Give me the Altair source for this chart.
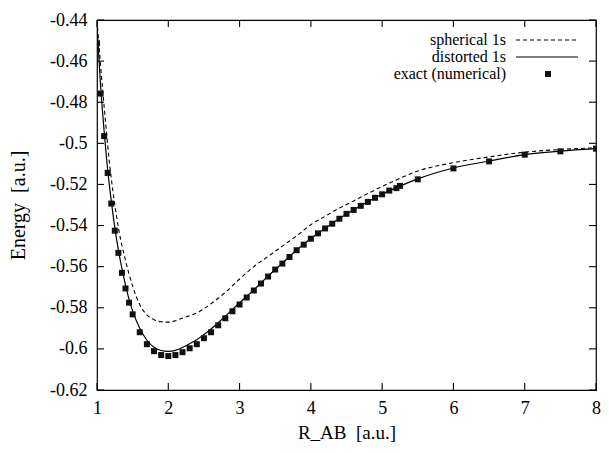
import altair as alt
import pandas as pd

# ---- data ----
exact_x = [1.0, 1.05, 1.1, 1.15, 1.2, 1.25, 1.3, 1.35, 1.4, 1.45, 1.5, 1.6, 1.7, 1.8, 1.9,
           2.0, 2.1, 2.2, 2.3, 2.4, 2.5, 2.6, 2.7, 2.8, 2.9, 3.0, 3.1, 3.2, 3.3, 3.4,
           3.5, 3.6, 3.7, 3.8, 3.9, 4.0, 4.1, 4.2, 4.3, 4.4, 4.5, 4.6, 4.7, 4.8, 4.9,
           5.0, 5.1, 5.2, 5.25, 5.5, 6.0, 6.5, 7.0, 7.5, 8.0]
exact_y = [-0.4513, -0.4758, -0.4965, -0.5144, -0.5293, -0.5425, -0.5533, -0.5630, -0.5706,
           -0.5775, -0.5832, -0.5919, -0.5977, -0.6011, -0.6030, -0.6035, -0.6030, -0.6016,
           -0.5997, -0.5977, -0.5948, -0.5919, -0.5885, -0.5851, -0.5817, -0.5784, -0.5750,
           -0.5716, -0.5682, -0.5648, -0.5614, -0.5585, -0.5553, -0.5520, -0.5493, -0.5464,
           -0.5438, -0.5414, -0.5391, -0.5367, -0.5343, -0.5324, -0.5304, -0.5285, -0.5265,
           -0.5248, -0.5230, -0.5218, -0.5207, -0.5175, -0.5122, -0.5088, -0.5055, -0.5039,
           -0.5026]

spherical_x = [1.0, 1.05, 1.1, 1.15, 1.2, 1.25, 1.3, 1.4, 1.5, 1.6, 1.7, 1.8, 1.9, 2.0,
               2.1, 2.2, 2.4, 2.6, 2.8, 3.0, 3.2, 3.4, 3.6, 3.8, 4.0, 4.2, 4.4, 4.6, 4.8,
               5.0, 5.2, 5.5, 6.0, 6.5, 7.0, 7.5, 8.0]
spherical_y = [-0.440, -0.462, -0.482, -0.501, -0.517, -0.530, -0.541, -0.557, -0.5695,
               -0.5785, -0.5835, -0.5858, -0.5868, -0.5870, -0.5863, -0.5850, -0.5825,
               -0.5780, -0.5725, -0.5660, -0.5600, -0.5550, -0.5500, -0.5450, -0.5396,
               -0.5355, -0.5315, -0.5280, -0.5244, -0.5210, -0.5178, -0.5135, -0.5094,
               -0.5066, -0.5043, -0.5030, -0.5022]

distorted_x = [1.0, 1.05, 1.1, 1.15, 1.2, 1.25, 1.3, 1.35, 1.4, 1.45, 1.5, 1.6, 1.7, 1.8,
               1.9, 2.0, 2.1, 2.2, 2.3, 2.4, 2.5, 2.6, 2.7, 2.8, 2.9, 3.0, 3.2, 3.4, 3.6,
               3.8, 4.0, 4.2, 4.4, 4.6, 4.8, 5.0, 5.2, 5.5, 6.0, 6.5, 7.0, 7.5, 8.0]
distorted_y = [-0.443, -0.472, -0.494, -0.513, -0.528, -0.541, -0.552, -0.561, -0.569,
               -0.576, -0.5815, -0.5900, -0.5958, -0.5992, -0.6008, -0.6012, -0.6007,
               -0.5993, -0.5975, -0.5955, -0.5930, -0.5903, -0.5873, -0.5841, -0.5808,
               -0.5776, -0.5713, -0.5646, -0.5583, -0.5519, -0.5463, -0.5413, -0.5366,
               -0.5323, -0.5284, -0.5247, -0.5216, -0.5173, -0.5120, -0.5086, -0.5055,
               -0.5038, -0.5026]

x_ticks = [1, 2, 3, 4, 5, 6, 7, 8]
y_ticks = [-0.62, -0.6, -0.58, -0.56, -0.54, -0.52, -0.5, -0.48, -0.46, -0.44]
legend_labels = ["spherical 1s", "distorted 1s", "exact (numerical)"]

W, H = 499, 370
FONT = "Liberation Serif"
TICK = 7

xs = alt.Scale(domain=[1, 8], nice=False, zero=False)
ys = alt.Scale(domain=[-0.62, -0.44], nice=False, zero=False)

sph = pd.DataFrame({"x": spherical_x, "y": spherical_y})
dis = pd.DataFrame({"x": distorted_x, "y": distorted_y})
exa = pd.DataFrame({"x": exact_x, "y": exact_y})
xt = pd.DataFrame({"v": x_ticks})
yt = pd.DataFrame({"v": y_ticks})
dummy = pd.DataFrame({"a": [0]})

x_axis = alt.Axis(values=x_ticks, format="d", grid=False, ticks=False, domain=False,
                  labelFlush=False, labelFont=FONT, labelFontSize=18, labelColor="black",
                  labelPadding=9, title="R_AB\u00a0 [a.u.]", titleFont=FONT,
                  titleFontSize=19, titleFontWeight="normal", titleColor="black",
                  titlePadding=6)
y_axis = alt.Axis(values=y_ticks, labelExpr="toString(datum.value)", grid=False,
                  ticks=False, domain=False, labelFlush=False, labelFont=FONT,
                  labelFontSize=18, labelColor="black", labelPadding=10,
                  title="Energy\u00a0 [a.u.]", titleFont=FONT, titleFontSize=20,
                  titleFontWeight="normal", titleColor="black", titlePadding=21)

base_sph = alt.Chart(sph).mark_line(
    color="black", strokeWidth=1.1, strokeDash=[4, 3], interpolate="monotone", clip=True
).encode(x=alt.X("x:Q", scale=xs, axis=x_axis), y=alt.Y("y:Q", scale=ys, axis=y_axis))

line_dis = alt.Chart(dis).mark_line(
    color="black", strokeWidth=1.2, interpolate="monotone", clip=True
).encode(x=alt.X("x:Q", scale=xs), y=alt.Y("y:Q", scale=ys))

pts = alt.Chart(exa).mark_square(
    color="#111111", size=36, opacity=1, clip=True
).encode(x=alt.X("x:Q", scale=xs), y=alt.Y("y:Q", scale=ys))

tick_style = dict(color="black", strokeWidth=1.1)
xt_bottom = alt.Chart(xt).mark_rule(**tick_style).encode(
    x=alt.X("v:Q", scale=xs), y=alt.value(H), y2=alt.value(H - TICK))
xt_top = alt.Chart(xt).mark_rule(**tick_style).encode(
    x=alt.X("v:Q", scale=xs), y=alt.value(0), y2=alt.value(TICK))
yt_left = alt.Chart(yt).mark_rule(**tick_style).encode(
    y=alt.Y("v:Q", scale=ys), x=alt.value(0), x2=alt.value(TICK))
yt_right = alt.Chart(yt).mark_rule(**tick_style).encode(
    y=alt.Y("v:Q", scale=ys), x=alt.value(W), x2=alt.value(W - TICK))

# legend (gnuplot style: text right-aligned, sample to the right)
LX = 409
leg_rows = [20, 37, 54]
leg_text = [
    alt.Chart(dummy).mark_text(text=lab, align="right", baseline="middle", font=FONT,
                               fontSize=16, color="black").encode(
        x=alt.value(LX), y=alt.value(yy))
    for lab, yy in zip(legend_labels, leg_rows)
]
leg_dash = alt.Chart(dummy).mark_rule(color="black", strokeWidth=1.1, strokeDash=[4, 3]).encode(
    x=alt.value(419), x2=alt.value(481), y=alt.value(leg_rows[0]))
leg_solid = alt.Chart(dummy).mark_rule(color="black", strokeWidth=1.2).encode(
    x=alt.value(419), x2=alt.value(481), y=alt.value(leg_rows[1]))
leg_sq = alt.Chart(dummy).mark_square(color="#111111", size=36, opacity=1).encode(
    x=alt.value(451), y=alt.value(leg_rows[2]))

chart = alt.layer(
    base_sph, line_dis, pts, xt_bottom, xt_top, yt_left, yt_right,
    *leg_text, leg_dash, leg_solid, leg_sq
).properties(
    width=W, height=H,
    autosize=alt.AutoSizeParams(type="none"),
    padding={"left": 89, "top": 12, "right": 5, "bottom": 55},
    background="white",
).configure_view(stroke="black", strokeWidth=1.2)

chart.save("out.html", embed_options={"renderer": "svg", "actions": False})
